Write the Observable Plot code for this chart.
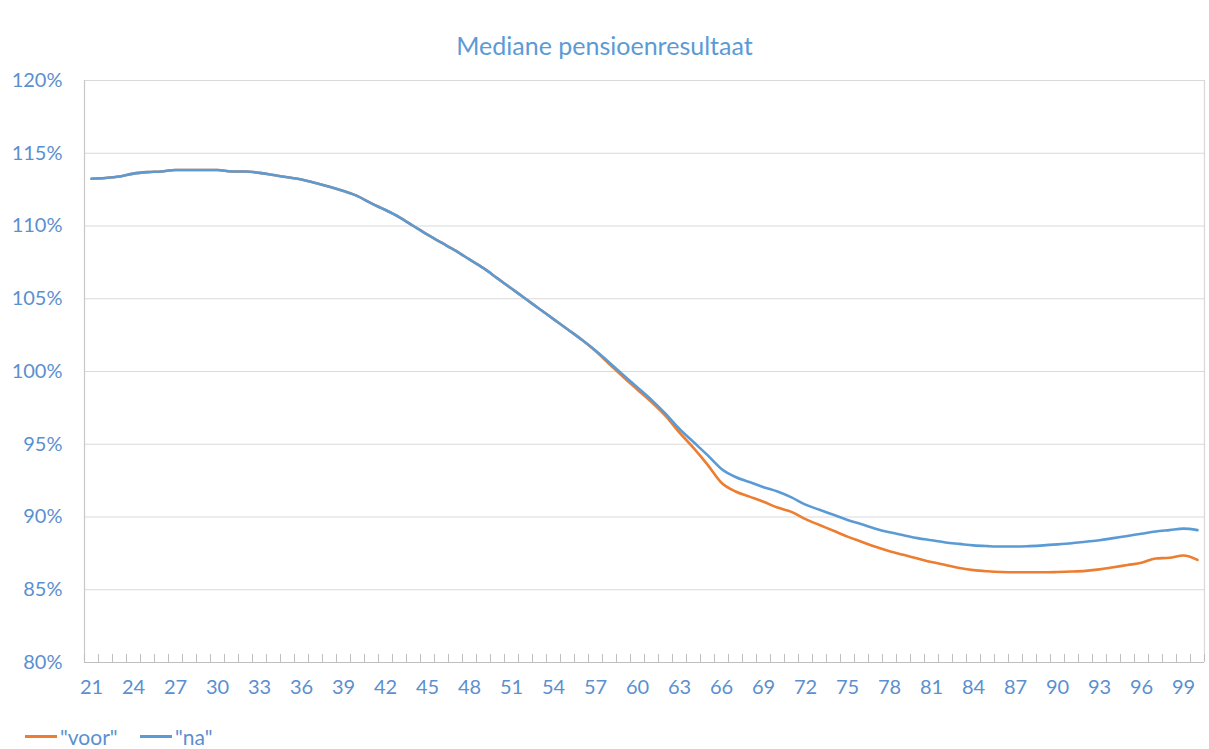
<!DOCTYPE html>
<html>
<head>
<meta charset="utf-8">
<script src="https://cdn.jsdelivr.net/npm/d3@7"></script>
<script src="https://cdn.jsdelivr.net/npm/@observablehq/plot@0.6"></script>
<style>
  body { margin: 0; background: #fff; font-family: Lato, "Open Sans", sans-serif; }
  #title { height: 60px; position: relative; }
  #title span { position: absolute; left: 0; right: 0; top: 30px; text-align: center; color: #5b9bd5; font-size: 25px; }
  #legend { position: relative; height: 47px; color: #5b8fcf; font-size: 21px; }
  .item { position: absolute; top: 22px; display: flex; align-items: center; }
  .sw { display: inline-block; width: 32px; height: 3px; margin-right: 3px; }
</style>
</head>
<body>
<div id="title"><span>Mediane pensioenresultaat</span></div>
<div id="chart"></div>
<div id="legend"></div>
<script>
const ages = d3.range(21, 101);
const na = [
  113.25, 113.3, 113.4, 113.6, 113.7, 113.75, 113.85, 113.85, 113.85, 113.85,
  113.75, 113.75, 113.65, 113.5, 113.35, 113.2, 112.95, 112.7, 112.4, 112.05,
  111.55, 111.1, 110.6, 110.0, 109.4, 108.85, 108.3, 107.7, 107.1, 106.4,
  105.7, 105.0, 104.3, 103.6, 102.9, 102.2, 101.45, 100.6, 99.75, 98.9,
  98.05, 97.1, 96.05, 95.15, 94.25, 93.3, 92.75, 92.4, 92.05, 91.75,
  91.35, 90.85, 90.5, 90.15, 89.8, 89.5, 89.2, 88.95, 88.75, 88.55,
  88.4, 88.25, 88.15, 88.05, 88.0, 87.97, 87.97, 88.0, 88.05, 88.12,
  88.2, 88.3, 88.4, 88.55, 88.7, 88.85, 89.0, 89.1, 89.2, 89.1
];
const voor = [
  113.25, 113.3, 113.4, 113.6, 113.7, 113.75, 113.85, 113.85, 113.85, 113.85,
  113.75, 113.75, 113.65, 113.5, 113.35, 113.2, 112.95, 112.7, 112.4, 112.05,
  111.55, 111.1, 110.6, 110.0, 109.4, 108.85, 108.3, 107.7, 107.1, 106.4,
  105.7, 105.0, 104.3, 103.6, 102.9, 102.2, 101.4, 100.5, 99.6, 98.75,
  97.9, 96.95, 95.8, 94.75, 93.6, 92.35, 91.75, 91.4, 91.05, 90.65,
  90.35, 89.85, 89.45, 89.05, 88.65, 88.3, 87.95, 87.65, 87.4, 87.15,
  86.9, 86.7, 86.5, 86.35, 86.27, 86.22, 86.2, 86.2, 86.2, 86.22,
  86.25, 86.3, 86.4, 86.55, 86.7, 86.85, 87.15, 87.2, 87.35, 87.05
];
const series = [
  {name: "\"voor\"", values: voor, color: "#ed7d31"},
  {name: "\"na\"", values: na, color: "#5b9bd5"}
];
const xTicks = d3.range(21, 101, 3);
const yTicks = d3.range(80, 121, 5);
const bandEdges = d3.range(20.5, 101, 1);

const rows = series.flatMap(s => ages.map((a, i) => ({age: a, value: s.values[i], name: s.name})));
const labelColor = "#5b8fcf";

const chart = Plot.plot({
  width: 1209,
  height: 642,
  marginLeft: 84,
  marginRight: 5,
  marginTop: 20,
  marginBottom: 40,
  style: {fontFamily: "Lato, 'Open Sans', sans-serif", background: "#fff"},
  x: {domain: [20.5, 100.5]},
  y: {domain: [80, 120]},
  color: {domain: series.map(s => s.name), range: series.map(s => s.color)},
  marks: [
    Plot.ruleY(yTicks, {stroke: "#d9d9d9", strokeWidth: 1.2}),
    Plot.ruleX([20.5], {stroke: "#c8c8c8", strokeWidth: 1.2}),
    Plot.ruleX([100.5], {stroke: "#d9d9d9", strokeWidth: 1.2}),
    Plot.ruleY([80], {stroke: "#bfbfbf", strokeWidth: 1.2}),
    Plot.ruleX(bandEdges, {y1: 80, y2: 80.55, stroke: "#bfbfbf"}),
    Plot.axisY({ticks: yTicks, tickFormat: d => d + "%", tickSize: 0, tickPadding: 22, fontSize: 20, color: labelColor, label: null}),
    Plot.axisX({ticks: xTicks, tickFormat: d => String(d), tickSize: 0, tickPadding: 17, fontSize: 20, color: labelColor, label: null}),
    Plot.line(rows, {x: "age", y: "value", z: "name", stroke: "name", strokeWidth: 2.6, curve: "monotone-x"})
  ]
});
document.getElementById("chart").appendChild(chart);

const legend = document.getElementById("legend");
const lefts = [25, 140];
series.forEach((s, i) => {
  const it = document.createElement("div");
  it.className = "item";
  it.style.left = lefts[i] + "px";
  it.innerHTML = `<span class="sw" style="background:${s.color}"></span><span>${s.name}</span>`;
  legend.appendChild(it);
});
</script>
</body>
</html>
